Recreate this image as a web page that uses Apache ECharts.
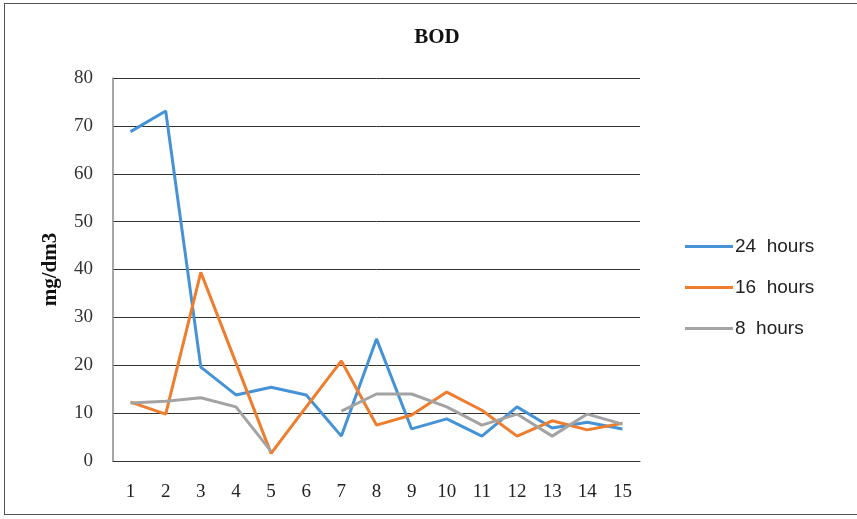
<!DOCTYPE html>
<html>
<head>
<meta charset="utf-8">
<script src="https://cdn.jsdelivr.net/npm/echarts@6/dist/echarts.min.js"></script>
<style>
  html, body { margin: 0; padding: 0; background: #fff; }
  .box { position: relative; width: 857px; height: 519px; }
  .frame { position: absolute; left: 4px; top: 3px; width: 860px; height: 512px; border: 1.5px solid #555; box-sizing: border-box; }
  #bod { position: absolute; left: 0; top: 0; width: 857px; height: 519px; }
</style>
</head>
<body>
<div class="box">
  <div class="frame"></div>
  <div id="bod"></div>
</div>
<script>
// 采样编号
var days = ["1", "2", "3", "4", "5", "6", "7", "8", "9", "10", "11", "12", "13", "14", "15"];
var yTicks = [0, 10, 20, 30, 40, 50, 60, 70, 80];
var names = ["24  hours", "16  hours", "8  hours"];
// BOD values, mg/dm3
var h24 = [68.8, 73.1, 19.6, 13.8, 15.4, 13.8, 5.2, 25.5, 6.7, 8.8, 5.2, 11.3, 6.9, 8.1, 6.7];
var h16 = [12.3, 9.8, 39.4, 20.5, 1.6, 11.3, 20.9, 7.5, 9.6, 14.4, 10.6, 5.2, 8.4, 6.5, 7.9];
var h8 = [12.1, 12.5, 13.2, 11.3, 2.0, null, 10.4, 14.0, 14.0, 11.3, 7.5, 9.8, 5.2, 9.8, 7.7];
var colors = ["#4592d6", "#ee7d2e", "#a3a3a3"];

var serif = "'Liberation Serif', 'DejaVu Serif', serif";

function line(name, data, color) {
  return {
    name: name,
    type: "line",
    data: data,
    symbol: "none",
    connectNulls: false,
    lineStyle: { color: color, width: 3 },
    itemStyle: { color: color },
  };
}

var option = {
  animation: false,
  title: {
    text: "BOD",
    left: 432,
    top: 22,
    textAlign: "center",
    textStyle: { fontFamily: serif, fontSize: 21, fontWeight: "bold", color: "#111" },
  },
  legend: {
    orient: "vertical",
    left: 680,
    top: 232,
    itemGap: 22,
    itemWidth: 48,
    itemHeight: 3,
    icon: "rect",
    data: names,
    textStyle: { fontFamily: "'Liberation Sans', 'Open Sans', sans-serif", fontSize: 19, color: "#222", padding: [0, 0, 0, -3] },
  },
  grid: { left: 113, right: 217, top: 78, bottom: 58 },
  xAxis: {
    type: "category",
    data: days,
    boundaryGap: true,
    axisLine: { lineStyle: { color: "#333", width: 1 } },
    axisTick: { show: false },
    axisLabel: { margin: 22, fontFamily: serif, fontSize: 19, color: "#222" },
  },
  yAxis: {
    type: "value",
    min: yTicks[0],
    max: yTicks[yTicks.length - 1],
    interval: 10,
    name: "mg/dm3",
    nameLocation: "middle",
    nameGap: 52,
    nameTextStyle: { fontFamily: serif, fontSize: 21, fontWeight: "bold", color: "#111" },
    axisLine: { show: true, lineStyle: { color: "#888", width: 1.5 } },
    axisTick: { show: false },
    axisLabel: { margin: 20, fontFamily: serif, fontSize: 19, color: "#333" },
    splitLine: { lineStyle: { color: "#333", width: 1 } },
  },
  series: [
    line(names[0], h24, colors[0]),
    line(names[1], h16, colors[1]),
    line(names[2], h8, colors[2]),
  ],
};

var myChart = echarts.init(document.getElementById("bod"));
myChart.setOption(option);
</script>
</body>
</html>
